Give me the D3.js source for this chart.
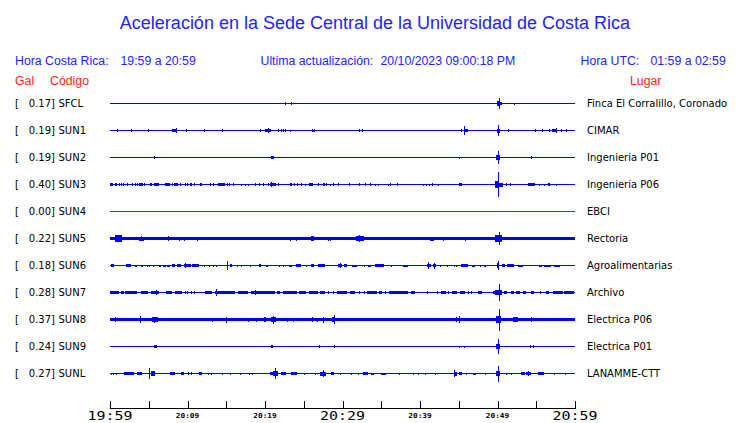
<!DOCTYPE html>
<html><head><meta charset="utf-8">
<script src="https://cdn.jsdelivr.net/npm/d3@7"></script>
<style>
html,body{margin:0;padding:0;background:#fff;}
svg{display:block;}
</style></head>
<body>
<script>
// ---------- DATA ----------
const stations = ["SFCL","SUN1","SUN2","SUN3","SUN4","SUN5","SUN6","SUN7","SUN8","SUN9","SUNL"];
const galValues = ["0.17","0.19","0.19","0.40","0.00","0.22","0.18","0.28","0.37","0.24","0.27"];
const places = ["Finca El Corralillo, Coronado","CIMAR","Ingenieria P01","Ingenieria P06","EBCI","Rectoria",
  "Agroalimentarias","Archivo","Electrica P06","Electrica P01","LANAMME-CTT"];
// continuous background noise level (relative amplitude units)
const baseNoise = [1.5,1.5,1.5,1.5,1.5,5,1.5,1.5,5,1.5,1.5];
// bursts: [start minute after 19:59, end minute, relative amplitude]
const sfclEvents = [[22.6,22.6,4],[23.4,23.4,4],[50.0,50.35,8],[50.35,50.65,4],[50.24,50.24,17],[52.2,52.2,3]];
const sun1Events = [[0.95,0.95,4],[2.75,2.75,4],[4.95,5.1,4],[8.1,8.7,4],[8.6,8.6,7],[9.85,9.85,4],[12.15,12.15,4],
  [14.5,14.5,4],[19.4,19.4,4],[20.1,20.85,5],[20.4,20.4,8],[21.7,21.7,4],[22.1,22.1,4],[22.45,22.45,4],[22.7,22.7,4],
  [23.25,23.25,3],[26.1,26.45,3],[26.1,26.1,4],[26.45,26.45,4],[32.2,32.2,4],[32.55,32.55,4],[45.4,45.4,4],
  [45.7,45.7,13],[45.8,46.3,5],[50.0,50.45,6],[50.15,50.15,17],[51.4,51.4,4],[54.9,54.9,4],[55.8,55.8,4],
  [56.7,56.7,4],[57.05,57.6,4],[57.6,57.6,7],[58.2,58.2,4],[58.95,58.95,4]];
const sun2Events = [[5.75,5.85,4],[20.8,21.15,4],[45.15,45.25,3],[49.9,50.4,8],[50.1,50.1,19],[54.4,54.55,4]];
const sun3Events = [[0,0.4,4],[0.7,1.0,4],[1.25,1.25,4],[1.5,1.5,4],[1.8,1.8,4],[2.3,2.3,4],[2.95,2.95,4],
  [3.25,3.25,4],[3.5,3.5,4],[3.75,4.25,4],[4.4,4.4,4],[5.2,5.2,4],[5.4,5.4,4],[5.7,6.35,4],[7.15,7.85,4],
  [8.1,8.1,4],[8.3,8.8,4],[9.1,9.1,4],[9.7,9.7,4],[10.05,10.05,4],[10.35,10.6,4],[10.9,10.9,4],[11.65,11.85,4],
  [12.95,12.95,4],[13.35,13.35,4],[14.0,14.85,4],[15.1,15.1,4],[15.45,15.6,4],[15.9,15.9,4],[16.95,16.95,3],
  [17.45,17.45,3],[17.85,17.85,3],[18.75,18.75,4],[19.25,19.25,4],[19.8,19.8,4],[20.45,20.45,4],[20.65,21.45,5],
  [20.85,20.85,8],[21.8,21.8,4],[23.25,23.55,4],[23.8,23.8,4],[24.2,24.2,4],[24.65,24.65,4],[25.25,25.25,3],
  [25.8,26.35,4],[26.9,26.9,4],[27.5,27.7,4],[27.9,27.9,4],[28.45,28.45,3],[28.85,28.85,4],[29.5,29.5,4],
  [30.9,30.9,4],[32.25,32.25,4],[33.0,33.0,4],[33.65,33.65,4],[34.2,34.2,3],[34.6,34.6,3],[35.95,35.95,3],
  [36.2,36.2,4],[37.1,37.1,4],[40.45,40.45,3],[40.85,40.85,3],[41.25,41.25,3],[41.65,41.65,4],[42.35,42.35,3],
  [45.05,45.5,4],[49.8,50.2,10],[50.2,50.7,6],[50.1,50.1,37],[51.15,51.15,4],[51.65,51.65,4],[54.0,54.9,4],
  [55.45,55.45,3],[56.0,56.0,3],[56.55,56.8,4],[57.6,57.6,3]];
const sun4Events = [];
const sun5Events = [[0.75,1.65,10],[2.1,2.1,5],[2.7,2.7,5],[3.8,4.45,6],[4.0,4.0,8],[4.6,4.6,5],[5.35,5.35,5],
  [7.6,7.6,8],[9.0,9.0,6],[9.6,9.6,6],[11.25,11.25,6],[13.4,13.4,5],[14.5,14.5,5],[16.5,16.5,5],[17.85,17.85,4],
  [18.9,18.9,4],[23.35,23.35,6],[24.0,24.0,6],[26.05,26.45,7],[28.2,28.2,6],[28.45,28.45,6],[31.85,32.9,8],
  [32.15,32.15,11],[37.2,37.2,4],[41.3,41.85,6],[43.0,43.0,6],[43.65,43.65,5],[45.9,45.9,6],[48.95,48.95,5],
  [49.55,49.55,5],[49.75,50.7,10],[50.2,50.2,20],[58.55,58.55,5]];
const sun6Events = [[0.2,0.65,4],[2.15,2.8,4],[3.35,3.65,3],[4.0,4.3,3],[4.8,4.8,3],[5.1,5.1,3],[5.65,5.65,3],
  [6.45,6.7,3],[6.95,7.35,3],[7.45,7.8,3],[8.05,8.45,4],[8.65,9.15,4],[9.6,10.45,4],[9.7,9.7,7],[10.6,11.55,4],
  [12.2,12.2,3],[12.85,12.85,3],[13.4,13.4,3],[13.8,13.8,3],[15.2,15.2,13],[15.55,15.85,4],[16.45,16.45,3],
  [17.0,17.0,3],[18.1,18.1,3],[19.25,19.55,4],[20.2,20.5,3],[21.85,21.85,3],[22.4,22.4,3],[23.1,23.5,3],
  [24.1,24.75,4],[25.4,25.4,3],[25.95,26.3,4],[26.9,27.8,4],[29.45,30.0,4],[29.7,29.7,7],[30.3,30.75,4],
  [31.25,31.9,3],[32.9,32.9,3],[33.35,33.75,3],[34.3,35.4,4],[36.35,36.35,3],[37.9,38.5,3],[40.95,41.5,5],
  [41.1,41.1,10],[41.7,42.05,4],[41.85,41.85,9],[42.65,42.65,3],[43.55,43.55,3],[44.4,44.4,3],[44.75,44.75,3],
  [45.3,46.25,4],[46.75,47.2,3],[47.85,47.85,3],[48.3,48.6,3],[50.0,50.3,7],[50.15,50.15,14],[50.65,51.05,4],
  [51.3,52.15,4],[52.7,53.4,3],[55.4,55.85,3],[56.05,57.0,3],[57.4,58.2,3]];
const sun7Events = [[0,0.35,4],[0.5,1.25,4],[1.5,1.95,4],[2.0,3.55,4],[4.0,4.95,4],[5.4,6.45,4],[6.0,6.0,7],
  [7.25,8.0,4],[8.4,9.35,4],[9.7,9.7,4],[10.0,10.0,4],[10.5,10.5,4],[10.9,10.9,4],[12.3,13.15,4],[13.55,16.15,4],
  [13.7,13.7,10],[16.55,17.85,4],[18.3,21.4,4],[18.8,18.8,7],[21.65,22.05,4],[22.4,24.2,4],[24.5,25.45,4],
  [25.7,26.9,4],[27.2,27.8,4],[28.2,28.2,4],[28.9,28.9,4],[29.4,30.75,4],[31.0,31.6,4],[32.15,32.15,4],
  [32.8,32.8,4],[33.2,34.45,4],[34.8,35.15,4],[35.55,35.55,4],[36.0,38.4,4],[38.85,39.35,4],[41.0,41.0,4],
  [42.3,42.3,4],[42.8,43.45,4],[43.7,43.7,4],[44.15,44.85,4],[45.2,45.8,4],[46.3,46.3,4],[46.65,46.65,4],
  [47.5,48.05,4],[49.45,49.8,4],[49.7,50.6,8],[50.2,50.2,26],[50.95,51.3,4],[51.75,52.1,4],[52.5,53.05,4],
  [53.4,53.75,4],[54.4,54.85,4],[55.5,55.5,4],[56.3,56.75,4],[57.2,58.5,4],[58.7,60,4]];
const sun8Events = [[0.7,0.7,7],[3.9,3.9,10],[5.5,6.25,7],[5.7,5.7,9],[13.2,13.2,6],[15.0,15.0,9],[17.85,17.85,6],
  [18.95,18.95,6],[19.9,20.15,7],[20.85,21.5,8],[21.15,21.15,12],[22.9,22.9,6],[23.65,23.65,6],[26.15,26.15,8],
  [26.8,26.8,6],[27.5,27.5,9],[28.7,29.1,8],[28.95,28.95,13],[44.75,44.75,8],[45.05,45.05,10],[49.85,50.5,11],
  [50.2,50.2,33],[52.1,52.7,8],[54.4,54.4,7]];
const sun9Events = [[3.8,3.8,2],[5.7,6.15,4],[20.85,21.1,4],[27.0,27.0,4],[28.95,28.95,4],[45.1,45.1,3],
  [45.7,45.7,3],[49.9,50.4,8],[50.15,50.15,22],[54.3,54.3,4],[54.6,54.6,4]];
const sunlEvents = [[0.2,0.2,3],[0.45,0.45,3],[0.9,0.9,3],[1.85,3.2,4],[3.5,4.15,4],[5.1,5.1,17],[5.4,5.8,7],
  [5.7,5.7,8],[7.75,8.4,4],[9.25,9.7,4],[10.1,10.1,4],[10.55,10.55,4],[11.6,12.05,4],[12.75,12.75,3],
  [13.1,13.1,3],[14.5,14.5,3],[15.6,15.6,3],[16.9,16.9,3],[17.95,17.95,3],[18.35,18.35,3],[20.75,21.1,4],
  [21.1,21.7,7],[21.4,21.4,16],[22.15,22.8,4],[23.45,24.2,4],[25.15,25.15,3],[26.55,26.55,3],[27.2,27.95,6],
  [27.5,27.5,10],[28.6,29.05,4],[29.7,29.7,3],[31.2,31.2,3],[32.05,32.05,3],[32.75,33.35,4],[33.75,34.1,3],
  [35.05,35.7,3],[37.35,37.35,3],[39.15,39.15,3],[39.8,39.8,3],[40.65,40.65,3],[41.95,41.95,3],[44.4,44.85,6],
  [44.5,44.5,10],[45.05,45.4,4],[46.0,46.0,3],[46.9,47.3,3],[48.4,48.4,3],[49.9,50.45,7],[50.15,50.15,24],
  [51.2,51.2,3],[51.75,51.75,3],[53.05,53.55,4],[53.8,54.4,5],[54.0,54.0,7],[55.25,56.05,4],[57.4,57.4,3],
  [58.8,58.8,3]];
const allEvents = [sfclEvents,sun1Events,sun2Events,sun3Events,sun4Events,sun5Events,sun6Events,sun7Events,
  sun8Events,sun9Events,sunlEvents];
const tickMinutes = [0,5,10,15,20,25,30,35,40,45,50,55,60];
const tickLabels = ["19:59","20:09","20:19","20:29","20:39","20:49","20:59"];
const labelMinutes = [0,10,20,30,40,50,60];

// ---------- DRAW ----------
const W = 740, H = 423;
const svg = d3.select("body").append("svg").attr("width", W).attr("height", H);
const blue = "#0000f0", hdr = "#2323ff", red = "#ff2323";
const sans = "'Liberation Sans', Arial, sans-serif";
const dv = "'DejaVu Sans', sans-serif";

const x = d3.scaleLinear().domain([0, 60]).range([110, 575]);
const rowY = d3.scalePoint().domain(stations).range([103.5, 373.5]);
const amp = d3.scaleLinear().domain([0, 30]).range([0, 10]);

// header
svg.append("text").attr("x", 375).attr("y", 29).attr("text-anchor", "middle")
  .attr("font-family", sans).attr("font-size", 18).attr("fill", hdr)
  .text("Aceleración en la Sede Central de la Universidad de Costa Rica");
const hdrTexts = [
  ["Hora Costa Rica:", 15, hdr], ["19:59 a 20:59", 120.5, hdr],
  ["Ultima actualización:", 260.5, hdr], ["20/10/2023 09:00:18 PM", 380.5, hdr],
  ["Hora UTC:", 580.5, hdr], ["01:59 a 02:59", 650.5, hdr]];
hdrTexts.forEach(d => svg.append("text").attr("x", d[1]).attr("y", 65)
  .attr("font-family", sans).attr("font-size", 12.3).attr("fill", d[2]).text(d[0]));
[["Gal", 15], ["Código", 50], ["Lugar", 630]].forEach(d =>
  svg.append("text").attr("x", d[1]).attr("y", 85).attr("font-family", sans)
    .attr("font-size", 12.3).attr("fill", red).text(d[0]));

// rows
stations.forEach((s, i) => {
  const cy = rowY(s);
  const g = svg.append("g");
  g.append("text").attr("x", 15).attr("y", cy + 3.8).attr("font-family", dv).attr("font-size", 10).text("[");
  g.append("text").attr("x", 55).attr("y", cy + 3.8).attr("text-anchor", "end")
    .attr("font-family", dv).attr("font-size", 10).text(galValues[i] + "]");
  g.append("text").attr("x", 58.5).attr("y", cy + 3.8).attr("font-family", dv).attr("font-size", 10).text(s);
  g.append("text").attr("x", 587).attr("y", cy + 3.8).attr("font-family", dv).attr("font-size", 10).text(places[i]);

  const col = +galValues[i] === 0 ? "#ee0000" : blue;
  const tr = g.append("g").attr("fill", col).attr("shape-rendering", "crispEdges");
  const bh = Math.max(1, Math.round(2 * amp(baseNoise[i])));
  tr.append("rect").attr("x", x(0)).attr("width", x(60) - x(0))
    .attr("y", Math.round(cy - bh / 2)).attr("height", bh);
  tr.selectAll("rect.ev").data(allEvents[i]).join("rect").attr("class", "ev")
    .attr("x", d => Math.floor(x(d[0])))
    .attr("width", d => Math.max(1, Math.round(x(d[1]) - x(d[0]))))
    .attr("y", d => Math.round(cy - amp(d[2])))
    .attr("height", d => Math.max(1, Math.round(2 * amp(d[2]))));
});

// time axis
const ax = svg.append("g").attr("shape-rendering", "crispEdges").attr("stroke", "#000");
ax.append("line").attr("x1", x(0)).attr("x2", x(60) + 1).attr("y1", 408.5).attr("y2", 408.5);
ax.selectAll("line.t").data(tickMinutes).join("line").attr("class", "t")
  .attr("x1", d => Math.round(x(d)) + 0.5).attr("x2", d => Math.round(x(d)) + 0.5)
  .attr("y1", 401).attr("y2", 409);
labelMinutes.forEach((m, k) => {
  const big = (m % 30 === 0);
  const sx = big ? 1.3 : 1.15;
  svg.append("text")
    .attr("transform", `translate(${x(m)},${big ? 419.5 : 417.5}) scale(${sx},1)`)
    .attr("text-anchor", "middle")
    .attr("font-family", "'DejaVu Sans Mono', monospace")
    .attr("font-size", big ? 11.5 : 6.8).attr("font-weight", big ? "normal" : "bold")
    .text(tickLabels[k]);
});
</script>
</body></html>
